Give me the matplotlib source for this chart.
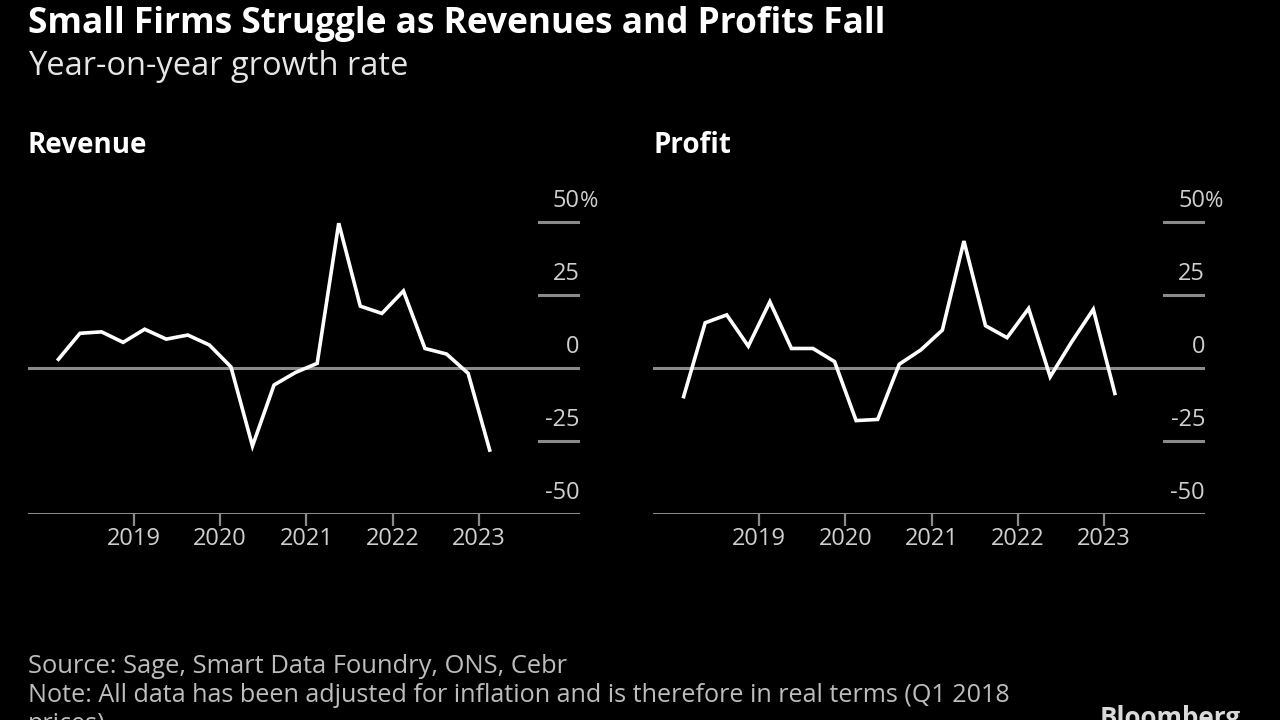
import numpy as np
import matplotlib
matplotlib.use("Agg")
import matplotlib.pyplot as plt

plt.rcParams['font.family'] = ['Open Sans', 'DejaVu Sans']

# Quarterly data, Q1 2018 - Q1 2023 (year-on-year growth, %)
quarters = 2018.125 + 0.25 * np.arange(21)
revenue = [3.1, 12.0, 12.5, 8.9, 13.4, 10.0, 11.4, 8.0, 0.5, -26.6, -5.7,
           -1.4, 1.7, 49.7, 21.3, 18.8, 26.5, 6.8, 4.9, -1.7, -28.0]
profit = [-9.7, 15.6, 18.3, 7.6, 22.8, 6.8, 6.8, 2.3, -17.9, -17.5, 1.4,
          6.3, 13.1, 43.6, 14.6, 10.5, 20.5, -2.9, 9.1, 20.2, -8.6]

years = [2019, 2020, 2021, 2022, 2023]
y_ticks = [50, 25, 0, -25, -50]
y_labels = ['50', '25', '0', '-25', '-50']

title = "Small Firms Struggle as Revenues and Profits Fall"
subtitle = "Year-on-year growth rate"
source = "Source: Sage, Smart Data Foundry, ONS, Cebr"
note1 = "Note: All data has been adjusted for inflation and is therefore in real terms (Q1 2018"
note2 = "prices)"

W, H = 1280, 720
bg = '#000000'
grid_c = '#8a8a8a'
tick_c = '#cfcfcf'

fig = plt.figure(figsize=(W / 100, H / 100), dpi=100, facecolor=bg)


def px(x, y):
    return x / W, 1 - y / H


def panel(left, name, values):
    ax = fig.add_axes([left / W, 1 - 514.3 / H, 552 / W, 329.3 / H])
    ax.set_facecolor(bg)
    ax.set_xlim(2017.77, 2024.17)
    ax.set_ylim(-50, 62.8)
    for s in ax.spines.values():
        s.set_visible(False)
    # short gridlines by the labels, full lines for zero and bottom
    for v in y_ticks:
        if v in (0, -50):
            ax.axhline(v, color=grid_c, lw=2.2, zorder=1)
        else:
            ax.axhline(v, xmin=1 - 41 / 552, xmax=1, color=grid_c, lw=2.2, zorder=1)
    for v, lab in zip(y_ticks, y_labels):
        ax.annotate(lab, xy=(1, v), xycoords=('axes fraction', 'data'),
                    xytext=(0, 11), textcoords='offset points',
                    ha='right', va='baseline', color=tick_c, fontsize=17)
        if v == 50:
            ax.annotate('%', xy=(1, v), xycoords=('axes fraction', 'data'),
                        xytext=(0, 11), textcoords='offset points',
                        ha='left', va='baseline', color=tick_c, fontsize=16)
    ax.plot(quarters, values, color='white', lw=2.6, solid_joinstyle='miter', zorder=3)
    ax.set_yticks([])
    ax.set_xticks(years)
    ax.set_xticklabels([str(y) for y in years])
    ax.tick_params(axis='x', colors=grid_c, length=8.5, width=1.6, pad=1,
                   labelcolor=tick_c, labelsize=17)
    fig.text(*px(left, 153), name, color='white', fontsize=20,
             fontweight='bold', ha='left', va='baseline')
    return ax


panel(27.8, 'Revenue', revenue)
panel(653, 'Profit', profit)

fig.text(*px(28, 33), title, color='white', fontsize=25.4, fontweight='bold',
         ha='left', va='baseline')
fig.text(*px(28, 75), subtitle, color='#e6e6e6', fontsize=23.5,
         ha='left', va='baseline')
fig.text(*px(28, 673), source, color='#bdbdbd', fontsize=18.4,
         ha='left', va='baseline')
fig.text(*px(28, 702), note1, color='#bdbdbd', fontsize=18.1,
         ha='left', va='baseline')
fig.text(*px(28, 731), note2, color='#bdbdbd', fontsize=18.1,
         ha='left', va='baseline')
fig.text(*px(1100, 726), 'Bloomberg', color='#d9d9d9', fontsize=18.7,
         fontweight='bold', ha='left', va='baseline')

fig.savefig('out.png', dpi=100, facecolor=bg)
